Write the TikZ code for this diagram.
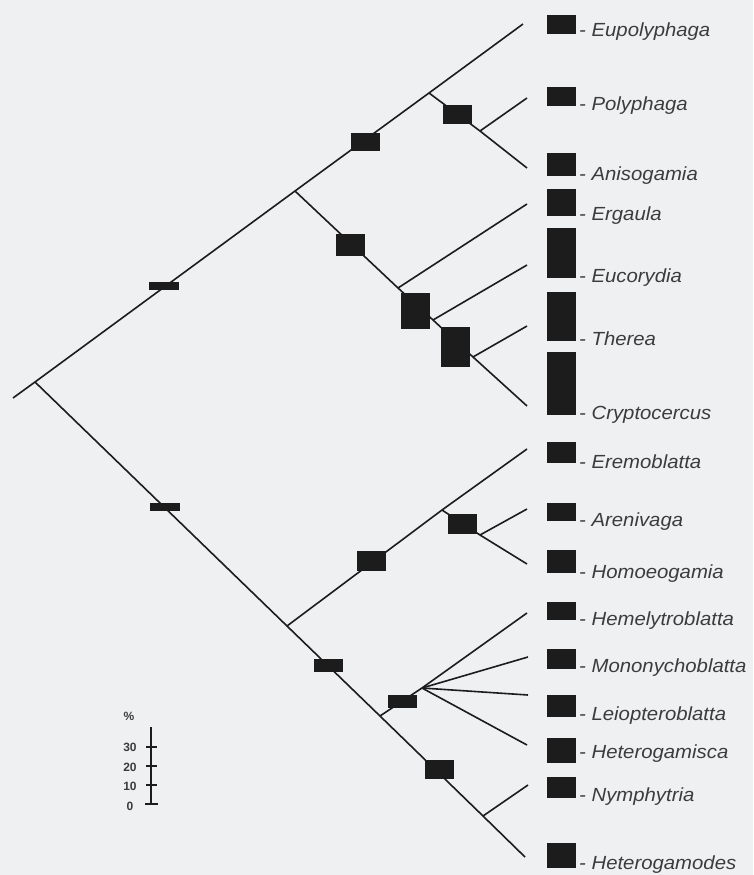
\documentclass[tikz,border=0pt]{standalone}
\usepackage{fontspec}
\setmainfont{Liberation Sans}
\newfontfamily\taxonfont[FakeStretch=1.07]{Liberation Sans}
\usepackage{xcolor}
\usetikzlibrary{positioning}
\definecolor{paper}{HTML}{EEF0F1}
\definecolor{ink}{HTML}{1C1C1C}
\definecolor{textgray}{HTML}{3C3C3C}

\begin{document}
\begin{tikzpicture}[
    x=1pt, y=-1pt,
    branch/.style={draw=ink, line width=1.6pt},
    bar/.style={rectangle, fill=ink, inner sep=0pt, minimum width=29pt},
    taxon/.style={anchor=base west, text=textgray, inner sep=0pt,
                  font=\taxonfont\fontsize{19}{22}\selectfont\itshape},
    scalelabel/.style={text=textgray, inner sep=0pt,
                       font=\fontsize{12}{14}\selectfont\bfseries}
  ]
    \fill[paper] (0,0) rectangle (753,875);
    \useasboundingbox (0,0) rectangle (753,875);

    % tips
    \coordinate (tEupolyphaga)     at (523,24);
    \coordinate (tPolyphaga)       at (527,98);
    \coordinate (tAnisogamia)      at (527,168);
    \coordinate (tErgaula)         at (527,204);
    \coordinate (tEucorydia)       at (527,265);
    \coordinate (tTherea)          at (527,326);
    \coordinate (tCryptocercus)    at (527,406);
    \coordinate (tEremoblatta)     at (527,449);
    \coordinate (tArenivaga)       at (527,509);
    \coordinate (tHomoeogamia)     at (527,564);
    \coordinate (tHemelytroblatta) at (527,613);
    \coordinate (tMononychoblatta) at (528,657);
    \coordinate (tLeiopteroblatta) at (528,695);
    \coordinate (tHeterogamisca)   at (527,745);
    \coordinate (tNymphytria)      at (528,785);
    \coordinate (tHeterogamodes)   at (525,857);

    % internal nodes
    \coordinate (stem) at (13,398);
    \coordinate (root) at (35,382);
    \coordinate (nA) at (295,191);
    \coordinate (nB) at (429,93);
    \coordinate (nC) at (480,131);
    \coordinate (nD) at (398,288);
    \coordinate (nE) at (433,320);
    \coordinate (nF) at (473,357);
    \coordinate (nG) at (287,626);
    \coordinate (nH) at (442,510);
    \coordinate (nI) at (480,535);
    \coordinate (nJ) at (380,716);
    \coordinate (nK) at (422,688);
    \coordinate (nL) at (483,816);

    % branches
    \draw[branch] (stem) -- (root) -- (nA) -- (nB) -- (tEupolyphaga);
    \draw[branch] (nB) -- (nC) -- (tAnisogamia);
    \draw[branch] (nC) -- (tPolyphaga);
    \draw[branch] (nA) -- (nD) -- (nE) -- (nF) -- (tCryptocercus);
    \draw[branch] (nD) -- (tErgaula);
    \draw[branch] (nE) -- (tEucorydia);
    \draw[branch] (nF) -- (tTherea);
    \draw[branch] (root) -- (nG) -- (nJ) -- (nL) -- (tHeterogamodes);
    \draw[branch] (nG) -- (nH) -- (tEremoblatta);
    \draw[branch] (nH) -- (nI) -- (tHomoeogamia);
    \draw[branch] (nI) -- (tArenivaga);
    \draw[branch] (nJ) -- (nK) -- (tHemelytroblatta);
    \draw[branch] (nK) -- (tMononychoblatta);
    \draw[branch] (nK) -- (tLeiopteroblatta);
    \draw[branch] (nK) -- (tHeterogamisca);
    \draw[branch] (nL) -- (tNymphytria);

    % bars on branches
    \node[bar, minimum width=30pt, minimum height=8pt]  (bUpper)  at (163.5,286) {};
    \node[bar, minimum width=30pt, minimum height=8pt]  (bLower)  at (164.5,506.5) {};
    \node[bar, minimum height=18pt] (bPoly)    at (365.5,142) {};
    \node[bar, minimum height=19pt] (bAniso)   at (457,114.5) {};
    \node[bar, minimum height=22pt] (bErg)     at (350,245) {};
    \node[bar, minimum height=36pt] (bEucor)   at (415,311) {};
    \node[bar, minimum height=40pt] (bTher)    at (455.5,347) {};
    \node[bar, minimum height=20pt] (bEremo)   at (371,561) {};
    \node[bar, minimum height=20pt] (bAreni)   at (462,524) {};
    \node[bar, minimum height=13pt] (bHetero)  at (328,665.5) {};
    \node[bar, minimum height=13pt] (bHemely)  at (402,701.5) {};
    \node[bar, minimum height=19pt] (bNymph)   at (439.5,769.5) {};

    % bars at tips
    \node[bar, minimum height=19pt] (bEupolyphaga)     at (561,24.5) {};
    \node[bar, minimum height=19pt] (bPolyphaga)       at (561,96.5) {};
    \node[bar, minimum height=23pt] (bAnisogamia)      at (561,164.5) {};
    \node[bar, minimum height=27pt] (bErgaula)         at (561,202.5) {};
    \node[bar, minimum height=50pt] (bEucorydia)       at (561,253) {};
    \node[bar, minimum height=49pt] (bTherea)          at (561,316.5) {};
    \node[bar, minimum height=63pt] (bCryptocercus)    at (561,383.5) {};
    \node[bar, minimum height=21pt] (bEremoblatta)     at (561,452.5) {};
    \node[bar, minimum height=18pt] (bArenivaga)       at (561,512) {};
    \node[bar, minimum height=23pt] (bHomoeogamia)     at (561,561.5) {};
    \node[bar, minimum height=18pt] (bHemelytroblatta) at (561,611) {};
    \node[bar, minimum height=20pt] (bMononychoblatta) at (561,659) {};
    \node[bar, minimum height=22pt] (bLeiopteroblatta) at (561,706) {};
    \node[bar, minimum height=25pt] (bHeterogamisca)   at (561,750.5) {};
    \node[bar, minimum height=21pt] (bNymphytria)      at (561,787.5) {};
    \node[bar, minimum height=25pt] (bHeterogamodes)   at (561,855.5) {};

    % taxon names
    \node[taxon] (lEupolyphaga)     at (579,37)  {- Eupolyphaga};
    \node[taxon] (lPolyphaga)       at (579,110) {- Polyphaga};
    \node[taxon] (lAnisogamia)      at (579,180) {- Anisogamia};
    \node[taxon] (lErgaula)         at (579,220) {- Ergaula};
    \node[taxon] (lEucorydia)       at (579,282) {- Eucorydia};
    \node[taxon] (lTherea)          at (579,345) {- Therea};
    \node[taxon] (lCryptocercus)    at (579,419) {- Cryptocercus};
    \node[taxon] (lEremoblatta)     at (579,468) {- Eremoblatta};
    \node[taxon] (lArenivaga)       at (579,526) {- Arenivaga};
    \node[taxon] (lHomoeogamia)     at (579,578) {- Homoeogamia};
    \node[taxon] (lHemelytroblatta) at (579,625) {- Hemelytroblatta};
    \node[taxon] (lMononychoblatta) at (579,672) {- Mononychoblatta};
    \node[taxon] (lLeiopteroblatta) at (579,720) {- Leiopteroblatta};
    \node[taxon] (lHeterogamisca)   at (579,758) {- Heterogamisca};
    \node[taxon] (lNymphytria)      at (579,801) {- Nymphytria};
    \node[taxon] (lHeterogamodes)   at (579,869) {- Heterogamodes};

    % percentage scale
    \draw[branch, line width=1.2pt] (151,727) -- (151,804);
    \draw[branch, line width=1.2pt] (146,747) -- (157,747);
    \draw[branch, line width=1.2pt] (146,766) -- (157,766);
    \draw[branch, line width=1.2pt] (146,785) -- (157,785);
    \draw[branch, line width=1.2pt] (145,804) -- (158,804);
    \node[scalelabel] (sPercent) at (129,716) {\%};
    \node[scalelabel] (sThirty)  at (130,747) {30};
    \node[scalelabel] (sTwenty)  at (130,767) {20};
    \node[scalelabel] (sTen)     at (130,786) {10};
    \node[scalelabel] (sZero)    at (130,806) {0};
\end{tikzpicture}
\end{document}
